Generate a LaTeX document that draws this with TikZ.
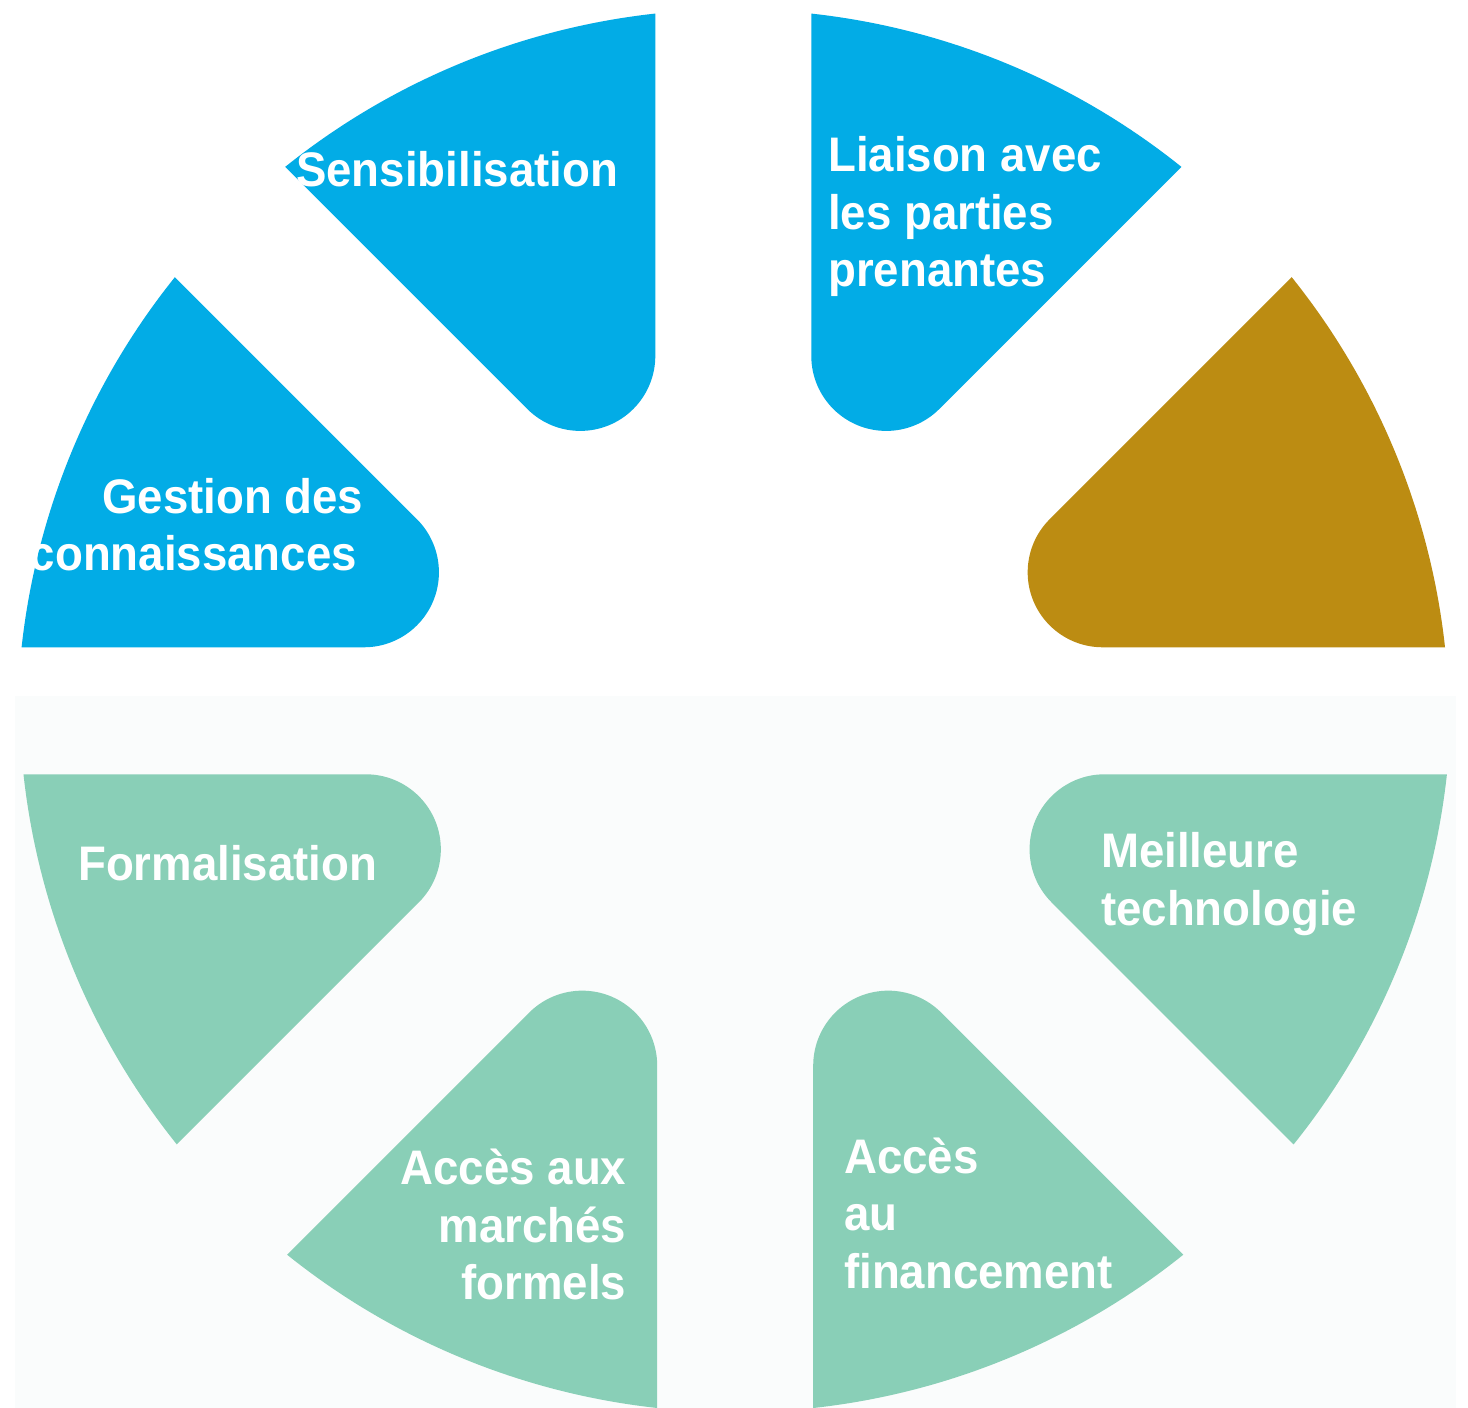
\documentclass[tikz,border=0pt]{standalone}
\usepackage{fontspec}
\setmainfont[FakeStretch=0.94]{Liberation Sans}
\definecolor{skyblue}{RGB}{2,172,230}
\definecolor{ochre}{RGB}{188,140,18}
\definecolor{mint}{RGB}{137,207,183}
\definecolor{paleback}{RGB}{250,252,252}
\newcommand\petal[4]{%
  \fill[#4,shift={(#1,#2)},rotate=#3]
    (369.38,78) -- (6.254:716)
    arc[start angle=6.254,end angle=38.746,radius=716]
    -- (316.34,206.03)
    arc[start angle=135,end angle=270,radius=75] -- cycle;}
\tikzset{
  lbl/.style={text=white,inner sep=0pt,font=\bfseries\fontsize{48.5}{57.5}\selectfont},
}
\begin{document}
\begin{tikzpicture}[x=1pt,y=1pt]
\useasboundingbox (0,0) rectangle (1468,1408);
\fill[white] (0,0) rectangle (1468,1408);
\fill[paleback] (15,0) rectangle (1456,712);
% top half
\petal{733.3}{682.7}{0}{ochre}
\petal{733.3}{682.7}{45}{skyblue}
\petal{733.3}{682.7}{90}{skyblue}
\petal{733.3}{682.7}{135}{skyblue}
% bottom half
\petal{735.2}{711.7}{180}{mint}
\petal{735.2}{711.7}{225}{mint}
\petal{735.2}{711.7}{270}{mint}
\petal{735.2}{711.7}{315}{mint}
% labels (anchor = baseline of the last line)
\node[lbl,anchor=base west] (sens) at (296,1221.5) {Sensibilisation};
\node[lbl,anchor=base west,align=left] (liai) at (828,1121.3) {Liaison avec\\les parties\\prenantes};
\node[lbl,anchor=base east,align=right] (gest) at (363.5,837) {Gestion des\\connaissances\hspace*{6.5pt}};
\node[lbl,anchor=base west] (form) at (78,527.3) {Formalisation};
\node[lbl,anchor=base east,align=right] (marc) at (626.5,108) {Accès aux\\marchés\\formels};
\node[lbl,anchor=base west,align=left] (fina) at (844,119.7) {Accès\\au\\financement};
\node[lbl,anchor=base west,align=left] (tech) at (1101,482.5) {Meilleure\\technologie};
\end{tikzpicture}
\end{document}
